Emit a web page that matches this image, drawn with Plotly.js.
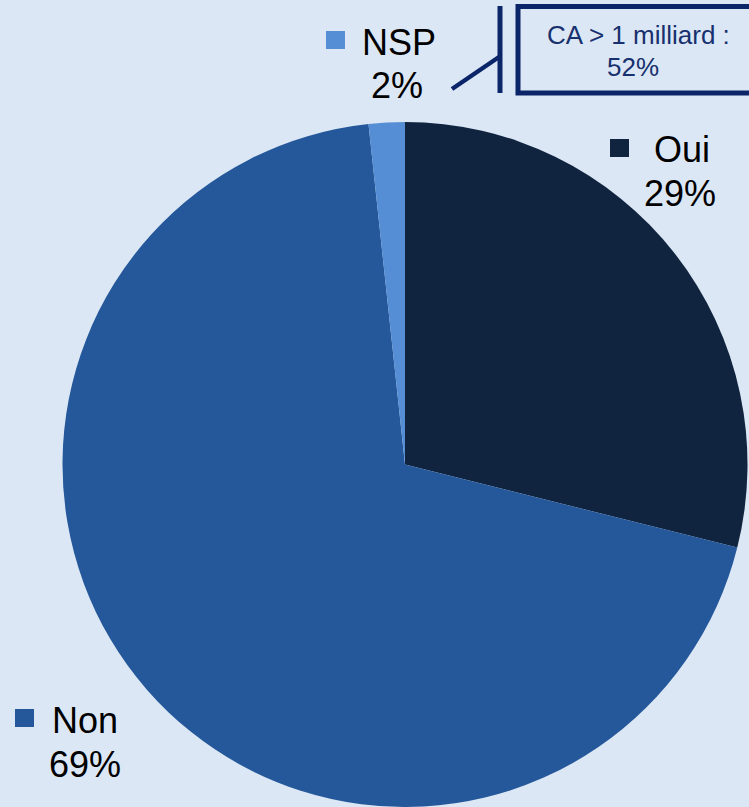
<!DOCTYPE html>
<html>
<head>
<meta charset="utf-8">
<script src="https://cdn.plot.ly/plotly-3.0.1.min.js"></script>
<style>html,body{margin:0;padding:0;background:#dce7f5;}#chart{width:749px;height:807px;}</style>
</head>
<body>
<div id="chart"></div>
<script>
const categories = ["Oui", "Non", "NSP"];
const values = [28.9, 69.4, 1.7];
const colors = ["#10243f", "#24589a", "#558ed5"];
const calloutLines = ["CA > 1 milliard :", "52%"];

const W = 749, H = 807;
const px = x => x / W;
const py = y => 1 - y / H;
const pct = v => Math.round(v) + "%";

const labelPos = [
  {sq: [610, 139], name: [682, 150], val: [680, 193]},
  {sq: [15, 709], name: [85, 720], val: [85, 764]},
  {sq: [326, 31], name: [399, 43], val: [397, 86]}
];

const annotations = [];
const shapes = [];
categories.forEach((c, i) => {
  const p = labelPos[i];
  shapes.push({type: "rect", xref: "paper", yref: "paper",
    x0: px(p.sq[0]), x1: px(p.sq[0] + 19), y0: py(p.sq[1]), y1: py(p.sq[1] + 18),
    fillcolor: colors[i], line: {width: 0}});
  annotations.push({xref: "paper", yref: "paper", x: px(p.name[0]), y: py(p.name[1]),
    text: c, showarrow: false, xanchor: "center", yanchor: "middle",
    font: {family: "Liberation Sans, Arial, sans-serif", size: 36, color: "#000"}});
  annotations.push({xref: "paper", yref: "paper", x: px(p.val[0]), y: py(p.val[1]),
    text: pct(values[i]), showarrow: false, xanchor: "center", yanchor: "middle",
    font: {family: "Liberation Sans, Arial, sans-serif", size: 36, color: "#000"}});
});

// callout box and bracket
shapes.push({type: "rect", xref: "paper", yref: "paper",
  x0: px(518), x1: px(760), y0: py(6.5), y1: py(93),
  line: {color: "#0b2569", width: 5}, fillcolor: "rgba(0,0,0,0)"});
shapes.push({type: "line", xref: "paper", yref: "paper",
  x0: px(500), x1: px(500), y0: py(6), y1: py(93), line: {color: "#0b2569", width: 5}});
shapes.push({type: "line", xref: "paper", yref: "paper",
  x0: px(452), x1: px(499), y0: py(89), y1: py(57), line: {color: "#0b2569", width: 4.5}});

annotations.push({xref: "paper", yref: "paper", x: px(638), y: py(35), text: calloutLines[0],
  showarrow: false, xanchor: "center", yanchor: "middle",
  font: {family: "Liberation Sans, Arial, sans-serif", size: 26, color: "#17306e"}});
annotations.push({xref: "paper", yref: "paper", x: px(633), y: py(67), text: calloutLines[1],
  showarrow: false, xanchor: "center", yanchor: "middle",
  font: {family: "Liberation Sans, Arial, sans-serif", size: 26, color: "#17306e"}});

const cx = 405, cy = 465, r = 343;
const trace = {
  type: "pie",
  labels: categories,
  values: values,
  sort: false,
  direction: "clockwise",
  rotation: 0,
  textinfo: "none",
  hoverinfo: "none",
  marker: {colors: colors, line: {width: 0}},
  showlegend: false,
  domain: {x: [px(cx - r), px(cx + r)], y: [Math.max(0, py(cy + r)), py(cy - r)]}
};

const layout = {
  width: W, height: H,
  margin: {l: 0, r: 0, t: 0, b: 0},
  paper_bgcolor: "#dce7f5",
  plot_bgcolor: "#dce7f5",
  showlegend: false,
  shapes: shapes,
  annotations: annotations
};

Plotly.newPlot("chart", [trace], layout, {displayModeBar: false, staticPlot: true});
</script>
</body>
</html>
